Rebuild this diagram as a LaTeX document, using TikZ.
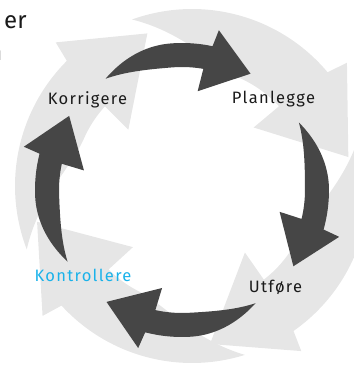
\documentclass[tikz,border=0pt]{standalone}
\usepackage{fontspec}
\setmainfont{Fira Sans}
\newfontfamily\cyclefont[LetterSpace=8]{Fira Sans}
\usepackage{xcolor}
\usepackage{tikz}
\definecolor{ink}{HTML}{1A1A1A}
\definecolor{arcdark}{HTML}{464646}
\definecolor{arclight}{HTML}{E6E6E6}
\definecolor{cyanlabel}{HTML}{1AB2EA}

% curved block arrows: tail angle, head base angle, tip angle
\newcommand{\darkarc}[3]{%
  \fill[arcdark] (#2+1:123)
    -- plot[domain=#2+1:#1, samples=40] (\x:{135-12*sin(90*min(1,(#1-(\x))/30))})
    -- plot[domain=#1:#2-1, samples=40] (\x:{135+12*sin(90*min(1,(#1-(\x))/30))})
    -- (#2-2:164) -- (#3:135) -- (#2+2:100) -- cycle;}
\newcommand{\lightarc}[3]{%
  \fill[arclight] (#2+1.5:118)
    -- plot[domain=#2+1.5:#1, samples=50] (\x:{177-59*sin(90*min(1,(#1-(\x))/45))})
    -- plot[domain=#1:#2-1, samples=50] (\x:{177})
    -- (#2-2.5:198) -- (#3:159) -- (#2+2.5:85) -- cycle;}

\begin{document}
\begin{tikzpicture}[x=1pt, y=1pt,
    phasetext/.style={font=\cyclefont\fontsize{16.5}{19}\selectfont, text=ink,
                      anchor=base, inner sep=0pt},
    headtext/.style={font=\fontsize{24}{28}\selectfont, inner sep=0pt}]

  \path[use as bounding box, clip] (0,0) rectangle (354,368);

  % outer light ring
  \begin{scope}[shift={(192,182)}]
    \lightarc{201}{136}{106.3}
    \lightarc{109.8}{41}{10.5}
    \lightarc{17.9}{-54}{-83.5}
    \lightarc{287.4}{223.5}{193}
  \end{scope}

  % inner dark ring
  \begin{scope}[shift={(182,178)}]
    \darkarc{124.5}{79}{59.5}
    \darkarc{30}{-14.6}{-34.4}
    \darkarc{-57}{-103.5}{-124}
    \darkarc{212}{166.7}{146.7}
  \end{scope}

  \node[phasetext] (korr)  at (87.5,263) {Korrigere};
  \node[phasetext] (plan)  at (273.5,265) {Planlegge};
  \node[phasetext] (utf)   at (275.5,75) {Utføre};
  \node[phasetext, text=cyanlabel] (kontr) at (83,86) {Kontrollere};

  % heading cut off at the edge
  \node[headtext, text=ink, anchor=base west] (head)  at (4,340) {er};
  \node[headtext, text=ink, anchor=base east] (headb) at (2.6,308) {n};
  \node[headtext, text=cyanlabel, anchor=base] (headc) at (60,373.5) {g};
\end{tikzpicture}
\end{document}
